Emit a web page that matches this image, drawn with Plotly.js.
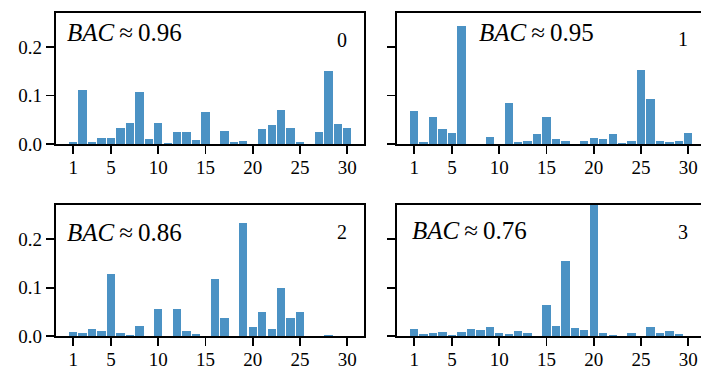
<!DOCTYPE html>
<html>
<head>
<meta charset="utf-8">
<script src="https://cdn.plot.ly/plotly-3.0.1.min.js"></script>
<style>
html, body { margin: 0; padding: 0; overflow: hidden; background: #fff; }
#chart { width: 705px; height: 370px; }
</style>
</head>
<body>
<div id="chart"></div>
<script>
// Feature indices
const features = [1,2,3,4,5,6,7,8,9,10,11,12,13,14,15,16,17,18,19,20,21,22,23,24,25,26,27,28,29,30];
const xTickVals = [1,5,10,15,20,25,30];
const yTickVals = [0, 0.1, 0.2];
const yTickText = ["0.0", "0.1", "0.2"];

// Importance values per panel
const panel0 = [0.004,0.112,0.004,0.012,0.012,0.033,0.043,0.108,0.010,0.043,0.002,0.025,0.025,0.008,0.066,0,0.027,0.004,0.006,0,0.031,0.039,0.070,0.033,0.004,0,0.025,0.151,0.041,0.033];
const panel1 = [0.068,0.004,0.056,0.031,0.023,0.244,0,0,0.014,0,0.085,0.004,0.006,0.021,0.056,0.010,0.006,0,0.006,0.012,0.010,0.021,0.002,0.006,0.153,0.093,0.006,0.004,0.006,0.023];
const panel2 = [0.009,0.007,0.015,0.011,0.128,0.007,0.003,0.021,0,0.056,0,0.056,0.011,0.005,0,0.118,0.038,0,0.233,0.019,0.050,0.015,0.099,0.038,0.050,0,0,0.002,0,0];
const panel3 = [0.015,0.005,0.007,0.009,0.002,0.009,0.015,0.013,0.019,0.007,0.005,0.011,0.007,0,0.064,0.021,0.155,0.017,0.013,0.31,0.007,0.002,0,0.007,0,0.019,0.007,0.011,0.005,0];

const panelLabels = ["0", "1", "2", "3"];
const bacValues = ["0.96", "0.95", "0.86", "0.76"];

const W = 705, H = 370;
const barColor = "rgb(75,146,196)";
const FONT = "'Liberation Serif', 'DejaVu Serif', serif";

const panels = [panel0, panel1, panel2, panel3];
const axisNames = [["x","y"],["x2","y2"],["x3","y3"],["x4","y4"]];

const traces = panels.map((vals, i) => ({
  type: "bar",
  x: features,
  y: vals,
  xaxis: axisNames[i][0],
  yaxis: axisNames[i][1],
  width: 0.88,
  marker: { color: barColor, line: { width: 0 } },
  showlegend: false,
  hoverinfo: "skip"
}));

const leftDom = [55.7 / W, 364 / W];
const rightDom = [396.7 / W, 1];
const topDom = [1 - 144 / H, 1 - 13.3 / H];
const botDom = [1 - 336.3 / H, 1 - 205 / H];

function xa(dom, anchor) {
  return {
    domain: dom, anchor: anchor, range: [-0.85, 31.77],
    tickmode: "array", tickvals: xTickVals, ticktext: xTickVals.map(String),
    ticks: "outside", ticklen: 8, tickwidth: 1.8, tickcolor: "#000",
    ticklabelstandoff: -3,
    showline: true, linecolor: "#000", linewidth: 2, mirror: true,
    showgrid: false, zeroline: false, fixedrange: true,
    tickfont: { family: FONT, size: 19, color: "#000" }
  };
}
function ya(dom, anchor, labels) {
  return {
    domain: dom, anchor: anchor, range: [0, 0.27],
    tickmode: "array", tickvals: yTickVals, ticktext: yTickText,
    showticklabels: labels,
    ticks: "outside", ticklen: 8, tickwidth: 1.8, tickcolor: "#000",
    showline: true, linecolor: "#000", linewidth: 2, mirror: true,
    showgrid: false, zeroline: false, fixedrange: true,
    tickfont: { family: FONT, size: 19, color: "#000" }
  };
}

const bacPos = [[65, 33], [477, 33], [65, 232], [410, 231]];
const numPos = [[342, 40], [683, 39], [342, 232], [683, 232]];

const annotations = [];
for (let i = 0; i < 4; i++) {
  annotations.push({
    xref: "paper", yref: "paper",
    x: bacPos[i][0] / W, y: 1 - bacPos[i][1] / H,
    xanchor: "left", yanchor: "middle", showarrow: false,
    text: "<i>BAC</i>\u2009\u2248\u2009" + bacValues[i],
    font: { family: FONT, size: 25, color: "#000" }
  });
  annotations.push({
    xref: "paper", yref: "paper",
    x: numPos[i][0] / W, y: 1 - numPos[i][1] / H,
    xanchor: "center", yanchor: "middle", showarrow: false,
    text: panelLabels[i],
    font: { family: FONT, size: 20, color: "#000" }
  });
}

const layout = {
  width: W, height: H,
  margin: { l: 0, r: 0, t: 0, b: 0, pad: 0 },
  paper_bgcolor: "#fff", plot_bgcolor: "#fff",
  bargap: 0,
  xaxis: xa(leftDom, "y"),
  yaxis: ya(topDom, "x", true),
  xaxis2: xa(rightDom, "y2"),
  yaxis2: ya(topDom, "x2", false),
  xaxis3: xa(leftDom, "y3"),
  yaxis3: ya(botDom, "x3", true),
  xaxis4: xa(rightDom, "y4"),
  yaxis4: ya(botDom, "x4", false),
  annotations: annotations
};

Plotly.newPlot("chart", traces, layout, { staticPlot: true, displayModeBar: false });
</script>
</body>
</html>
